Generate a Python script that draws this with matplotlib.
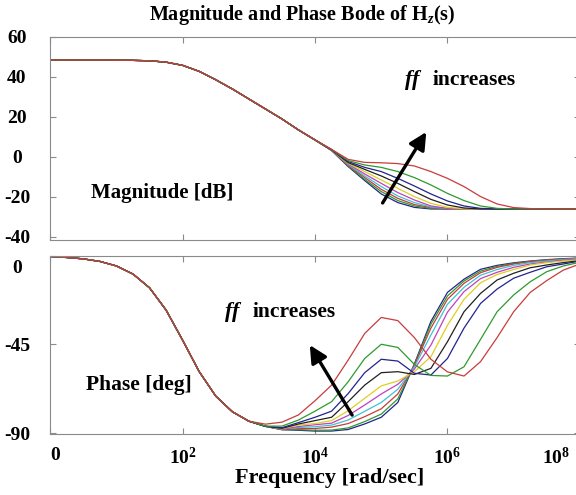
import numpy as np
import matplotlib.pyplot as plt
from matplotlib.ticker import NullLocator
from matplotlib.transforms import ScaledTranslation

plt.rcParams['font.family'] = 'Liberation Serif'
plt.rcParams['font.weight'] = 'bold'
plt.rcParams['axes.unicode_minus'] = False
plt.rcParams['mathtext.fontset'] = 'custom'
plt.rcParams['mathtext.rm'] = 'Liberation Serif:bold'
plt.rcParams['mathtext.bf'] = 'Liberation Serif:bold'
plt.rcParams['mathtext.it'] = 'Liberation Serif:italic:bold'

# log10 of frequency [rad/sec]
exp_low_mag = [0.0, 0.25, 0.5, 0.75, 1.0, 1.25, 1.5, 1.75, 2.0, 2.25, 2.5, 2.75,
               3.0, 3.25, 3.5, 3.75, 4.0]
exp_high_mag = [4.25, 4.5, 4.75, 5.0, 5.25, 5.5, 5.75, 6.0, 6.25, 6.5, 6.75, 7.0,
                7.25, 7.5, 7.75, 8.0]
exp_low_ph = [0.0, 0.25, 0.5, 0.75, 1.0, 1.25, 1.5, 1.75, 2.0, 2.25, 2.5, 2.75]
exp_high_ph = [3.0, 3.25, 3.5, 3.75, 4.0, 4.25, 4.5, 4.75, 5.0, 5.25, 5.5, 5.75,
               6.0, 6.25, 6.5, 6.75, 7.0, 7.25, 7.5, 7.75, 8.0]

# part shared by every curve
mag_low = [48.5, 48.5, 48.5, 48.5, 48.4, 48.3, 48.1, 47.4, 45.8, 42.8, 38.6, 34.0,
           29.0, 24.0, 19.0, 13.5, 8.5]
phase_low = [-0.5, -1.0, -1.7, -3.0, -5.3, -9.4, -16.4, -27.7, -43.0, -58.9, -71.3, -79.2]

# magnitude [dB] above 10^4.25, one list per ff value (smallest ff first)
mag_1 = [3.2, -4.8, -11.8, -18.5, -22.8, -25.2, -26, -26, -26, -26, -26, -26, -26, -26, -26, -26]
mag_2 = [3.3, -4.5, -11.2, -17.3, -21.8, -24.5, -25.7, -26, -26, -26, -26, -26, -26, -26, -26, -26]
mag_3 = [3.3, -4.2, -10.3, -16.2, -20.7, -23.8, -25.3, -26, -26, -26, -26, -26, -26, -26, -26, -26]
mag_4 = [3.4, -3.8, -9.5, -14.8, -19.5, -22.8, -25.0, -25.8, -26, -26, -26, -26, -26, -26, -26, -26]
mag_5 = [3.4, -3.5, -8.5, -13.2, -17.8, -21.5, -24.5, -25.7, -26, -26, -26, -26, -26, -26, -26, -26]
mag_6 = [3.5, -3.2, -7.3, -11.5, -15.7, -19.8, -23.2, -25.2, -25.9, -26, -26, -26, -26, -26, -26, -26]
mag_7 = [3.5, -2.8, -6.2, -9.5, -13.2, -17.3, -21.2, -24.0, -25.5, -26, -26, -26, -26, -26, -26, -26]
mag_8 = [3.6, -2.3, -5.2, -7.3, -10.7, -14.5, -18.5, -22.0, -24.5, -25.7, -26, -26, -26, -26, -26, -26]
mag_9 = [3.7, -1.8, -4.0, -5.2, -7.3, -10.3, -14.0, -18.2, -21.8, -24.5, -25.7, -26, -26, -26, -26, -26]
mag_10 = [3.8, -1.2, -2.7, -2.9, -3.3, -4.5, -7.3, -10.7, -14.8, -19.8, -23.5, -25.3, -25.8, -26, -26, -26]

# phase [deg] above 10^3
ph_1 = [-84.0, -86.6, -88.3, -88.6, -89.0, -89.0, -88.2, -85.4, -82.0, -74.5, -55.0, -33.4,
        -18.7, -12.0, -7.0, -5.0, -3.7, -2.8, -2.1, -1.6, -1.3]
ph_2 = [-84.0, -86.6, -88.3, -88.3, -88.6, -88.5, -87.4, -84.2, -80.4, -72.7, -55.3, -34.8,
        -20.5, -12.9, -7.9, -5.5, -4.0, -3.0, -2.3, -1.8, -1.3]
ph_3 = [-84.0, -86.6, -88.2, -87.8, -87.7, -87.0, -85.2, -81.7, -77.7, -70.2, -55.7, -36.8,
        -22.2, -14.1, -8.7, -6.0, -4.3, -3.1, -2.4, -1.9, -1.4]
ph_4 = [-84.0, -86.6, -88.0, -87.2, -86.8, -86.0, -83.4, -79.0, -74.5, -67.8, -56.5, -40.3,
        -24.7, -16.1, -10.0, -7.1, -5.0, -3.6, -2.8, -2.1, -1.6]
ph_5 = [-84.0, -86.6, -88.0, -86.7, -85.8, -85.0, -81.1, -75.8, -70.2, -65.3, -57.6, -45.4,
        -28.7, -18.3, -11.7, -8.5, -6.0, -4.3, -3.3, -2.4, -1.8]
ph_6 = [-84.0, -86.6, -87.8, -85.9, -85.2, -83.7, -78.7, -72.4, -66.1, -63.6, -58.9, -51.3,
        -35.4, -22.2, -13.8, -9.6, -7.1, -4.8, -3.6, -2.8, -2.1]
ph_7 = [-84.0, -86.6, -87.6, -85.4, -83.7, -82.0, -74.1, -65.7, -59.4, -58.9, -60.3, -57.2,
        -43.7, -28.5, -19.2, -12.4, -9.0, -6.2, -4.8, -3.6, -2.6]
ph_8 = [-84.0, -86.6, -87.3, -84.7, -82.0, -78.9, -70.0, -59.4, -52.6, -53.5, -59.7, -60.6,
        -52.2, -36.8, -24.3, -17.0, -11.5, -8.5, -5.7, -4.3, -2.8]
ph_9 = [-84.0, -86.5, -86.5, -83.4, -78.9, -74.1, -64.0, -52.2, -45.0, -46.6, -55.2, -60.8,
        -61.1, -56.4, -42.5, -28.5, -20.0, -13.3, -8.2, -5.3, -3.4]
ph_10 = [-84.0, -85.5, -84.5, -80.8, -73.6, -65.7, -53.0, -39.5, -31.4, -33.0, -41.6, -52.6,
         -59.0, -61.1, -53.8, -41.6, -28.5, -18.7, -12.7, -7.4, -4.3]

mag_tails = [mag_1, mag_2, mag_3, mag_4, mag_5, mag_6, mag_7, mag_8, mag_9, mag_10]
ph_tails = [ph_1, ph_2, ph_3, ph_4, ph_5, ph_6, ph_7, ph_8, ph_9, ph_10]
# old matlab colour order b g r c m y k
colors = ['#23238f', '#2e9a2e', '#c83c3c', '#3cc3d3', '#c040c0', '#dcd020',
          '#202020', '#23238f', '#2e9a2e', '#c83c3c']

w_mag = 10 ** np.array(exp_low_mag + exp_high_mag)
w_ph = 10 ** np.array(exp_low_ph + exp_high_ph)

fig = plt.figure(figsize=(5.76, 4.95), dpi=100)
ax1 = fig.add_axes([0.0873, 0.5152, 0.9194, 0.4101])
ax2 = fig.add_axes([0.0873, 0.1232, 0.9194, 0.3606])

for mt, pt, c in zip(mag_tails, ph_tails, colors):
    ax1.plot(w_mag, mag_low + mt, color=c, lw=0.9)
    ax2.plot(w_ph, phase_low + pt, color=c, lw=0.9)

for ax in (ax1, ax2):
    ax.set_xscale('log')
    ax.set_xlim(1, 1e8)
    ax.set_xticks([1, 1e2, 1e4, 1e6, 1e8])
    ax.xaxis.set_minor_locator(NullLocator())
    for s in ax.spines.values():
        s.set_color('#8a8a8a')
    ax.tick_params(direction='in', length=4, width=0.8, color='#8a8a8a',
                   top=True, right=True, labelsize=14)
    ax.tick_params(axis='y', pad=24)
    ax.tick_params(axis='x', pad=9)

ax1.set_ylim(-41.5, 60)
ax1.set_yticks([60, 40, 20, 0, -20, -40])
ax1.set_xticklabels([])

ax2.set_ylim(-90.5, 0)
ax2.set_yticks([0, -45, -90])
ax2.set_xticklabels(['0', r'$10^{2}$', r'$10^{4}$', r'$10^{6}$', r'$10^{8}$'])

for ax in (ax1, ax2):
    for lab in ax.get_yticklabels():
        lab.set_ha('center')
        lab.set_fontweight('bold')
    for lab in ax.get_xticklabels():
        lab.set_fontweight('bold')

# hand placed labels in the original
def shift(tick, dx, dy):
    tick.label1.set_transform(tick.label1.get_transform() +
                              ScaledTranslation(dx / 100, dy / 100, fig.dpi_scale_trans))

shift(ax2.yaxis.get_major_ticks()[0], 0, -11)
xt = ax2.xaxis.get_major_ticks()
shift(xt[0], 5, 0)
shift(xt[4], -24, 0)

fig.text(0.524, 0.969, r'Magnitude and Phase Bode of H$_{z}$(s)', ha='center', va='center',
         fontsize=14.5, fontweight='bold')
fig.text(0.572, 0.034, 'Frequency [rad/sec]', ha='center', va='center',
         fontsize=16, fontweight='bold')

ax1.text(10 ** 1.69, -18, 'Magnitude [dB]', ha='center', va='center', fontsize=15,
         fontweight='bold')
ax1.text(10 ** 5.36, 38.5, 'ff', ha='left', va='center', fontsize=16, fontstyle='italic',
         fontweight='bold')
ax1.text(10 ** 5.77, 38.5, 'increases', ha='left', va='center', fontsize=15.5,
         fontweight='bold')
ax1.annotate('', xy=(10 ** 5.68, 12.5), xytext=(10 ** 5.02, -23),
             arrowprops=dict(arrowstyle='-|>', color='black', lw=2.4, mutation_scale=26,
                             shrinkA=0, shrinkB=0))

ax2.text(10 ** 1.34, -65.7, 'Phase [deg]', ha='center', va='center', fontsize=15.5,
         fontweight='bold')
ax2.text(10 ** 2.64, -28.7, 'ff', ha='left', va='center', fontsize=16, fontstyle='italic',
         fontweight='bold')
ax2.text(10 ** 3.06, -28.7, 'increases', ha='left', va='center', fontsize=15.5,
         fontweight='bold')
ax2.annotate('', xy=(10 ** 3.92, -45.4), xytext=(10 ** 4.56, -80.9),
             arrowprops=dict(arrowstyle='-|>', color='black', lw=2.4, mutation_scale=26,
                             shrinkA=0, shrinkB=0))

fig.savefig('out.png', dpi=100)
